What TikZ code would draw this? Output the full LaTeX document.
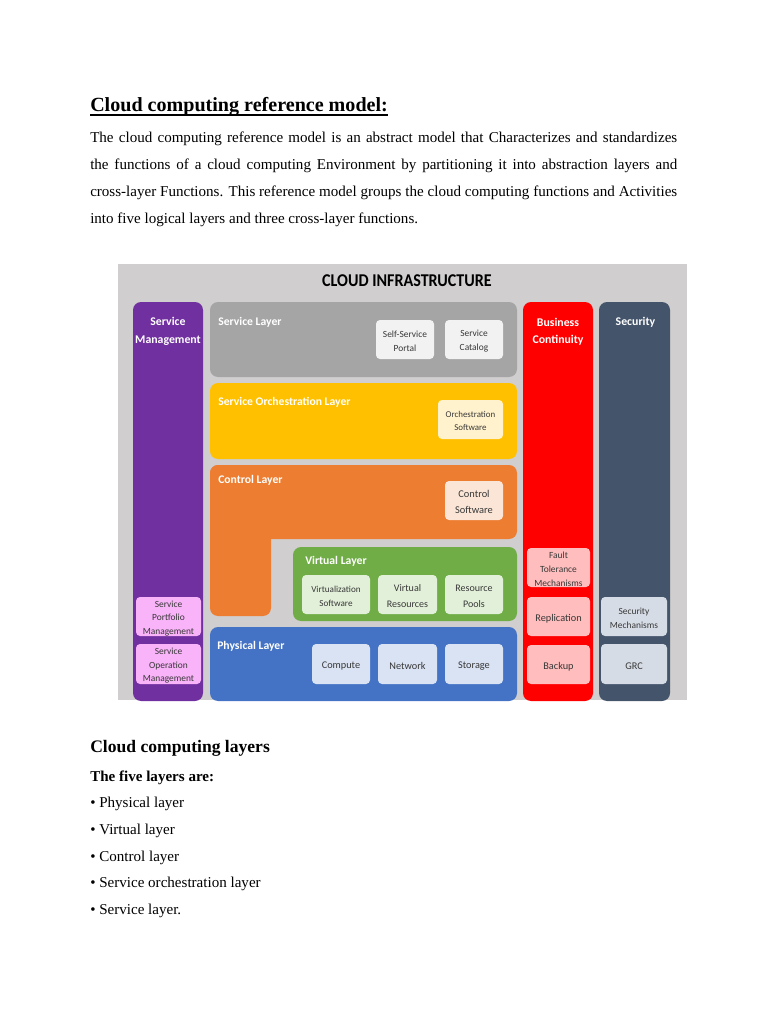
\documentclass[tikz,border=0pt]{standalone}
\usepackage{fontspec}
\usepackage{graphicx}
\setmainfont{Liberation Serif}
\newfontfamily\carl{Carlito}
\definecolor{bggrey}{HTML}{D0CECE}
\definecolor{purpleC}{HTML}{7030A0}
\definecolor{svcgrey}{HTML}{A5A5A5}
\definecolor{svcin}{HTML}{F2F2F2}
\definecolor{yellowC}{HTML}{FFC000}
\definecolor{orchin}{HTML}{FFF2CC}
\definecolor{orangeC}{HTML}{ED7D31}
\definecolor{ctrlin}{HTML}{FBE5D6}
\definecolor{greenC}{HTML}{70AD47}
\definecolor{virtin}{HTML}{E2F0D9}
\definecolor{blueC}{HTML}{4472C4}
\definecolor{physin}{HTML}{DAE3F3}
\definecolor{redC}{HTML}{FF0000}
\definecolor{redin}{HTML}{FFBDBD}
\definecolor{slateC}{HTML}{44546A}
\definecolor{secin}{HTML}{D6DCE5}
\definecolor{smin}{HTML}{F9B3F9}
\definecolor{intext}{HTML}{383838}
\newcommand\fsz[2]{\fontsize{#1}{#2}\selectfont}
% filled box from (x1,y1) to (x2,y2) in pixel units, with its text
\newcommand\rbox[7]{%
  \pgfmathsetmacro\bxw{(#4-#2)*0.796875}%
  \pgfmathsetmacro\bxh{(#5-#3)*0.796875}%
  \pgfmathsetmacro\bxx{(#2+#4)/2}%
  \pgfmathsetmacro\bxy{(#3+#5)/2}%
  \node[#6, minimum width=\bxw pt, minimum height=\bxh pt] (#1) at (\bxx,\bxy) {};
  \node[#6, fill=none, yshift=-1.4pt] (#1t) at (#1.center) {#7};}
\tikzset{
  bgbox/.style={fill=bggrey, inner sep=0pt},
  colbox/.style={rounded corners=6.4pt, inner sep=0pt},
  inbox/.style={rounded corners=3.2pt, inner sep=0pt, text=intext, align=center},
  hdr/.style={text=white, font=\carl\bfseries\fsz{9.4}{13.8}, align=center, inner sep=0pt},
  ltitle/.style={text=white, font=\carl\bfseries\fsz{9.3}{11}, anchor=base west, inner sep=0pt},
  bodytxt/.style={font=\fsz{12}{14}, anchor=base west, inner sep=0pt},
  smallA/.style={font=\carl\fsz{7.5}{11.2}},
  smallB/.style={font=\carl\fsz{8.2}{12.6}},
  smallC/.style={font=\carl\fsz{7.5}{10.8}},
}
\begin{document}
\begin{tikzpicture}[x=0.796875pt,y=-0.796875pt]
\useasboundingbox (0,0) rectangle (768,1024);

% ---------- top text ----------
\node[anchor=base west, inner sep=0pt, font=\bfseries\fsz{16}{19}] (title) at (90,111.5) {Cloud computing reference model:};
\draw[line width=0.9pt] ([yshift=-2.8pt]title.base west) -- ([yshift=-2.8pt]title.base east);
\node[bodytxt] (p1) at (90,142.5) {\makebox[467.77pt][s]{The cloud computing reference model is an abstract model that Characterizes and standardizes}};
\node[bodytxt] (p2) at (90,169.5) {\makebox[467.77pt][s]{the functions of a cloud computing Environment by partitioning it into abstraction layers and}};
\node[bodytxt] (p3) at (90,196.5) {\makebox[467.77pt][s]{cross-layer Functions. This reference model groups the cloud computing functions and Activities}};
\node[bodytxt] (p4) at (90,223.5) {into five logical layers and three cross-layer functions.};

% ---------- diagram ----------
\rbox{bg}{118}{264}{687}{700}{bgbox}{}
\node[inner sep=0pt, font=\carl\bfseries\fsz{12.8}{15}] (ttl) at (407,281) {\scalebox{1}[1.12]{CLOUD INFRASTRUCTURE}};

% columns
\rbox{sm}{133}{302}{203}{701}{colbox, fill=purpleC}{}
\node[hdr] (smt) at (168,331.5) {Service\\Management};
\rbox{bc}{523}{302}{593}{701}{colbox, fill=redC}{}
\node[hdr] (bct) at (558,331.5) {Business\\Continuity};
\rbox{sec}{599}{302}{670}{701}{colbox, fill=slateC}{}
\node[hdr, anchor=base] (sect) at (635.5,325.6) {Security};

% service layer
\rbox{sl}{210}{302}{517}{377}{colbox, fill=svcgrey}{}
\node[ltitle] (slt) at (218,325.5) {Service Layer};
\rbox{ssp}{376}{320}{434}{359}{inbox, fill=svcin, smallA}{Self-Service\\Portal}
\rbox{scat}{445}{320}{503}{359}{inbox, fill=svcin, smallA}{Service\\Catalog}

% service orchestration layer
\rbox{sol}{210}{383}{517}{459}{colbox, fill=yellowC}{}
\node[ltitle] (solt) at (218,405) {Service Orchestration Layer};
\rbox{osw}{438}{400}{503}{439}{inbox, fill=orchin, font=\carl\fsz{7.1}{10.6}}{Orchestration\\Software}

% control layer (L shape)
\fill[orangeC, rounded corners=6.4pt] (210,465) rectangle (517,539);
\fill[orangeC, rounded corners=6.4pt] (210,465) rectangle (271,616);
\node[ltitle] (clt) at (218,483) {Control Layer};
\rbox{csw}{445}{481}{503}{520}{inbox, fill=ctrlin, font=\carl\fsz{8.3}{12.7}}{Control\\Software}

% virtual layer
\rbox{vl}{293}{547}{517}{621}{colbox, fill=greenC}{}
\node[ltitle] (vlt) at (305,564.5) {Virtual Layer};
\rbox{vsw}{302}{575}{370}{614}{inbox, fill=virtin, font=\carl\fsz{7.3}{11.4}}{Virtualization\\Software}
\rbox{vres}{378}{575}{437}{614}{inbox, fill=virtin, font=\carl\fsz{8}{12.5}}{Virtual\\Resources}
\rbox{rpool}{445}{575}{503}{614}{inbox, fill=virtin, font=\carl\fsz{8}{12.5}}{Resource\\Pools}

% physical layer
\rbox{pl}{210}{627}{517}{701}{colbox, fill=blueC}{}
\node[ltitle] (plt) at (217,649) {Physical Layer};
\rbox{comp}{312}{644}{370}{684}{inbox, fill=physin, smallB}{Compute}
\rbox{net}{378}{644}{437}{684}{inbox, fill=physin, smallB}{Network}
\rbox{stor}{445}{644}{503}{684}{inbox, fill=physin, smallB}{Storage}

% business continuity boxes
\rbox{ftm}{527}{548}{590}{587}{inbox, fill=redin, smallC}{Fault\\Tolerance\\Mechanisms}
\rbox{repl}{527}{597}{590}{636}{inbox, fill=redin, smallB}{Replication}
\rbox{bkp}{527}{645}{590}{684}{inbox, fill=redin, smallB}{Backup}

% security boxes
\rbox{smech}{601}{597}{667}{636}{inbox, fill=secin, smallA}{Security\\Mechanisms}
\rbox{grc}{601}{644}{667}{684}{inbox, fill=secin, smallB}{GRC}

% service management boxes
\rbox{spm}{136}{597}{201}{636}{inbox, fill=smin, smallC}{Service\\Portfolio\\Management}
\rbox{som}{136}{644}{201}{684}{inbox, fill=smin, smallC}{Service\\Operation\\Management}

% ---------- bottom text ----------
\node[anchor=base west, inner sep=0pt, font=\bfseries\fsz{14}{17}] (h2) at (90,752.5) {Cloud computing layers};
\node[anchor=base west, inner sep=0pt, font=\bfseries\fsz{12}{14}] (h3) at (90,781.7) {The five layers are:};
\node[bodytxt] (b1) at (90,807.5) {• Physical layer};
\node[bodytxt] (b2) at (90,834.3) {• Virtual layer};
\node[bodytxt] (b3) at (90,861) {• Control layer};
\node[bodytxt] (b4) at (90,887.8) {• Service orchestration layer};
\node[bodytxt] (b5) at (90,914.5) {• Service layer.};
\end{tikzpicture}
\end{document}
